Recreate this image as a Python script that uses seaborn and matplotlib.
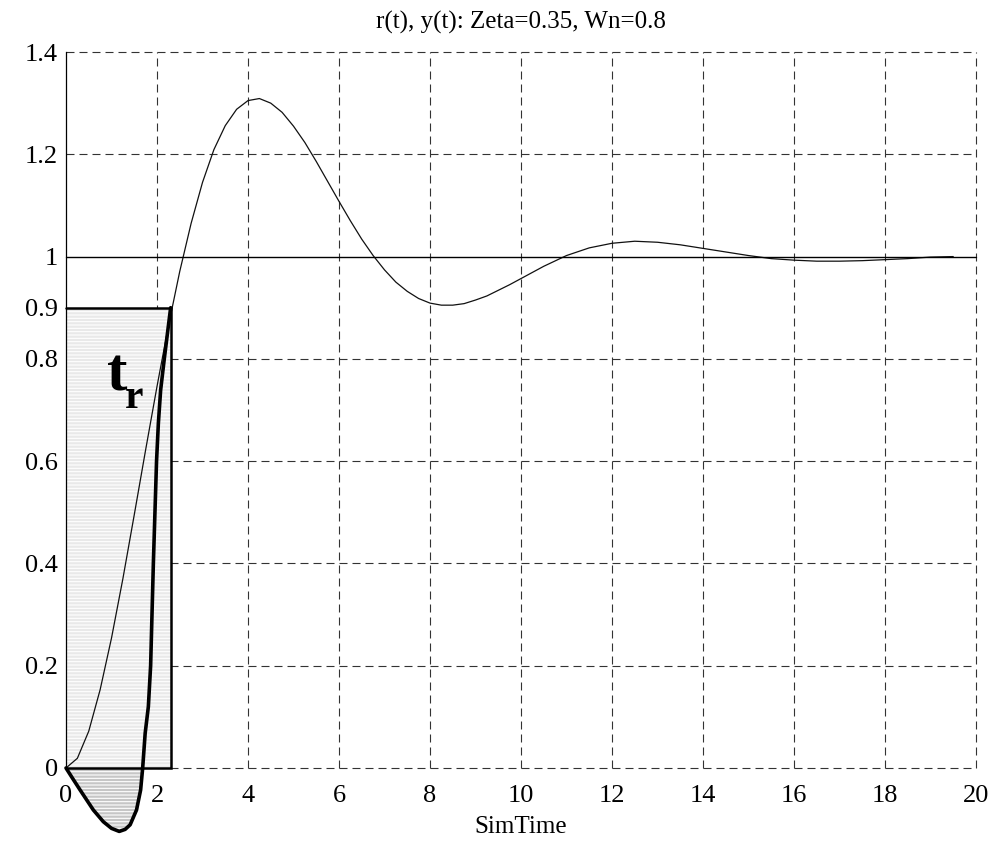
import numpy as np
import pandas as pd
import matplotlib
matplotlib.use("Agg")
import matplotlib.pyplot as plt
import seaborn as sns

# ---------------- data ----------------
time_s = [0.0, 0.25, 0.5, 0.75, 1.0, 1.25, 1.5, 1.75, 2.0, 2.25, 2.5, 2.75, 3.0, 3.25,
          3.5, 3.75, 4.0, 4.25, 4.5, 4.75, 5.0, 5.25, 5.5, 5.75, 6.0, 6.25, 6.5, 6.75,
          7.0, 7.25, 7.5, 7.75, 8.0, 8.25, 8.5, 8.75, 9.0, 9.25, 9.5, 9.75, 10.0,
          10.5, 11.0, 11.5, 12.0, 12.5, 13.0, 13.5, 14.0, 14.5, 15.0, 15.5, 16.0,
          16.5, 17.0, 17.5, 18.0, 18.5, 19.0, 19.5]
response_y = [0.000, 0.019, 0.072, 0.153, 0.254, 0.370, 0.495, 0.622, 0.746, 0.864,
              0.971, 1.065, 1.145, 1.209, 1.256, 1.288, 1.305, 1.309, 1.300, 1.282,
              1.255, 1.223, 1.186, 1.147, 1.108, 1.070, 1.034, 1.002, 0.974, 0.950,
              0.932, 0.918, 0.909, 0.905, 0.905, 0.908, 0.915, 0.923, 0.934, 0.945,
              0.957, 0.981, 1.002, 1.017, 1.026, 1.030, 1.028, 1.023, 1.016, 1.009,
              1.002, 0.996, 0.993, 0.991, 0.991, 0.992, 0.994, 0.996, 0.999, 1.000]

ref_t = [0.0, 20.0]
ref_y = [1.0, 1.0]

rise_time = 2.30
rise_level = 0.9

bowl_t = [0.0, 0.15, 0.31, 0.60, 0.82, 1.00, 1.17, 1.30, 1.41, 1.55, 1.64, 1.685,
          1.74, 1.81, 1.86, 1.92, 1.99, 2.03, 2.08, 2.16, 2.30]
bowl_y = [0.0, -0.021, -0.043, -0.082, -0.105, -0.118, -0.124, -0.120, -0.111, -0.082,
          -0.043, 0.0, 0.068, 0.12, 0.2, 0.4, 0.6, 0.674, 0.739, 0.8, 0.9]

x_ticks = [0, 2, 4, 6, 8, 10, 12, 14, 16, 18, 20]
y_ticks = [0, 0.2, 0.4, 0.6, 0.8, 0.9, 1, 1.2, 1.4]
y_tick_labels = ["0", "0.2", "0.4", "0.6", "0.8", "0.9", "1", "1.2", "1.4"]
y_grid = [0, 0.2, 0.4, 0.6, 0.8, 1.2, 1.4]

title_text = "r(t), y(t): Zeta=0.35, Wn=0.8"
x_label = "SimTime"

# ---------------- style ----------------
sns.set_theme(style="white")
plt.rcParams["font.family"] = ["Liberation Serif", "DejaVu Serif"]
plt.rcParams["hatch.linewidth"] = 0.8
plt.rcParams["axes.unicode_minus"] = False

fig = plt.figure(figsize=(9.92, 8.42), dpi=100)
ax = fig.add_axes([66 / 992, 1 - 768 / 842, (976 - 66) / 992, (768 - 52) / 842])
ax.set_xlim(0, 20)
ax.set_ylim(0, 1.4)
for s in ["top", "right", "bottom"]:
    ax.spines[s].set_visible(False)
ax.spines["left"].set_color("black")
ax.spines["left"].set_linewidth(0.9)
ax.patch.set_alpha(0)

grid_kw = dict(color="#333333", lw=0.8, ls=(0, (7.2, 4.5)), zorder=1, clip_on=False)
for gx in x_ticks:
    if gx != 0:
        ax.axvline(gx, **grid_kw)
for gy in y_grid:
    ax.axhline(gy, **grid_kw)

# rise-time rectangle
ax.fill_between([0, rise_time], 0, rise_level, facecolor="#e9e9e9",
                edgecolor="white", hatch="-----", linewidth=0, zorder=2)
ax.plot([0, rise_time, rise_time, 0], [rise_level, rise_level, 0, 0],
        color="black", lw=1.8, zorder=5, solid_joinstyle="miter")

# bowl area below zero
bt = np.array(bowl_t)
by = np.array(bowl_y)
ax.fill_between(bt, by, 0, where=by <= 0, facecolor="#c6c6c6", edgecolor="white",
                hatch="-----", linewidth=0, zorder=2, clip_on=False)

df = pd.DataFrame({"t": time_s, "y": response_y})
sns.lineplot(data=df, x="t", y="y", ax=ax, color="#111111", lw=0.9, zorder=4,
             sort=False, estimator=None)
sns.lineplot(x=ref_t, y=ref_y, ax=ax, color="black", lw=1.0, zorder=4,
             sort=False, estimator=None)
sns.lineplot(x=bowl_t, y=bowl_y, ax=ax, color="black", lw=2.6, zorder=6,
             sort=False, estimator=None)
for ln in ax.lines:
    ln.set_clip_on(False)

ax.text(0.90, 0.739, "t", fontsize=44, fontweight="bold", ha="left", va="baseline",
        color="black", zorder=7)
ax.text(1.30, 0.704, "r", fontsize=30, fontweight="bold", ha="left", va="baseline",
        color="black", zorder=7)

ax.set_xticks(x_ticks)
ax.set_xticklabels([str(v) for v in x_ticks])
ax.set_yticks(y_ticks)
ax.set_yticklabels(y_tick_labels)
ax.tick_params(axis="x", length=0, pad=12, labelsize=19, labelcolor="black")
ax.tick_params(axis="y", length=0, pad=6, labelsize=19, labelcolor="black")
ax.set_xlabel(x_label, fontsize=18, labelpad=7, color="black")
ax.set_ylabel("")
ax.set_title(title_text, fontsize=18, pad=17, color="black")

fig.savefig("out.png", dpi=100)
